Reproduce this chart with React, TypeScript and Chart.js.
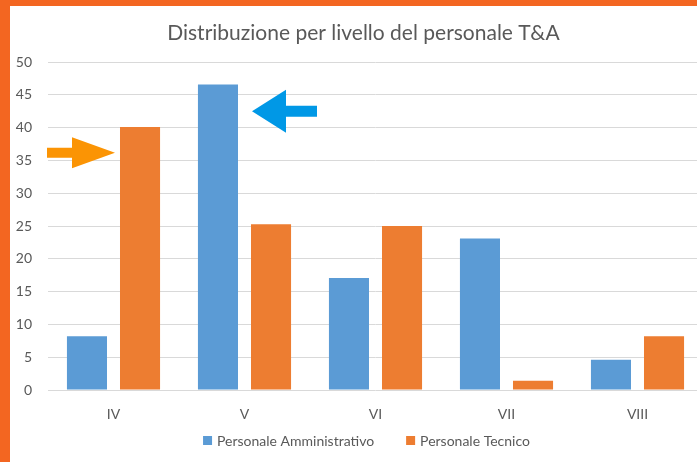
import React, { useEffect, useRef } from "react";
import { Chart, registerables } from "chart.js";

Chart.register(...registerables);

const categories = ["IV", "V", "VI", "VII", "VIII"];
const amministrativo = [8.2, 46.6, 17.1, 23.1, 4.6];
const tecnico = [40.1, 25.3, 25.0, 1.4, 8.2];
const seriesNames = ["Personale Amministrativo", "Personale Tecnico"];
const seriesColors = ["#5B9BD5", "#ED7D31"];
const titleText = "Distribuzione per livello del personale T&A";
const yMin = 0;
const yMax = 50;
const yStep = 5;

const FONT = "Lato, 'Noto Sans', sans-serif";
const TEXT = "#595959";

function drawArrow(ctx: CanvasRenderingContext2D, tipX: number, cy: number, dir: number, length: number, headLen: number, headH: number, shaftH: number, color: string) {
  ctx.save();
  ctx.fillStyle = color;
  ctx.beginPath();
  const baseX = tipX - dir * headLen;
  const tailX = tipX - dir * length;
  ctx.moveTo(tipX, cy);
  ctx.lineTo(baseX, cy - headH / 2);
  ctx.lineTo(baseX, cy - shaftH / 2);
  ctx.lineTo(tailX, cy - shaftH / 2);
  ctx.lineTo(tailX, cy + shaftH / 2);
  ctx.lineTo(baseX, cy + shaftH / 2);
  ctx.lineTo(baseX, cy + headH / 2);
  ctx.closePath();
  ctx.fill();
  ctx.restore();
}

const arrowPlugin = {
  id: "arrows",
  afterDraw(chart: any) {
    const ctx = chart.ctx;
    const y = chart.scales.y;
    const orangeBar = chart.getDatasetMeta(1).data[0];
    const blueBar = chart.getDatasetMeta(0).data[1];
    if (orangeBar) {
      const tip = orangeBar.x - orangeBar.width / 2 - 5;
      drawArrow(ctx, tip, y.getPixelForValue(36.2), 1, 68, 43, 31, 10, "#FB9404");
    }
    if (blueBar) {
      const tip = blueBar.x + blueBar.width / 2 + 14;
      drawArrow(ctx, tip, y.getPixelForValue(42.5), -1, 65, 34, 43, 11, "#0098E6");
    }
  },
};

const legendPlugin = {
  id: "customLegend",
  afterDraw(chart: any) {
    const ctx = chart.ctx as CanvasRenderingContext2D;
    ctx.save();
    ctx.font = `14px ${FONT}`;
    ctx.textBaseline = "middle";
    ctx.textAlign = "left";
    const box = 9;
    const boxGap = 5;
    const itemGap = 32;
    const widths = chart.data.datasets.map((d: any) => ctx.measureText(d.label).width);
    const total = widths.reduce((a: number, w: number) => a + box + boxGap + w, 0) + itemGap * (widths.length - 1);
    let x = chart.width / 2 + 3 - total / 2;
    const cy = chart.chartArea.bottom + 51;
    chart.data.datasets.forEach((d: any, i: number) => {
      ctx.fillStyle = d.backgroundColor;
      ctx.fillRect(x, cy - box / 2 - 0.5, box, box);
      x += box + boxGap;
      ctx.fillStyle = TEXT;
      ctx.fillText(d.label, x, cy);
      x += widths[i] + itemGap;
    });
    ctx.restore();
  },
};

export default function App() {
  const ref = useRef<HTMLCanvasElement>(null);
  useEffect(() => {
    if (!ref.current) return;
    const chart = new Chart(ref.current, {
      type: "bar",
      data: {
        labels: categories,
        datasets: [
          { label: seriesNames[0], data: amministrativo, backgroundColor: seriesColors[0], categoryPercentage: 0.81, barPercentage: 0.755 },
          { label: seriesNames[1], data: tecnico, backgroundColor: seriesColors[1], categoryPercentage: 0.81, barPercentage: 0.755 },
        ],
      },
      options: {
        responsive: false,
        animation: false,
        layout: { padding: { left: 0, right: 0, bottom: 39 } },
        plugins: {
          title: {
            display: true,
            text: titleText,
            color: TEXT,
            font: { family: FONT, size: 21, weight: "normal" as any },
            padding: { top: 15, bottom: 16 },
          },
          legend: { display: false },
          tooltip: { enabled: false },
        },
        scales: {
          x: {
            grid: { display: false, drawTicks: false },
            border: { display: false },
            ticks: { color: TEXT, font: { family: FONT, size: 14 }, padding: 16 },
            afterFit: (s: any) => { s.height = 33; },
          },
          y: {
            min: yMin,
            max: yMax,
            ticks: { stepSize: yStep, color: TEXT, font: { family: FONT, size: 14 }, padding: 16 },
            grid: { color: "#D9D9D9", drawTicks: false, lineWidth: 1 },
            border: { display: false },
            afterFit: (s: any) => { s.width = 38; },
          },
          yRight: {
            type: "linear",
            position: "right",
            display: true,
            grid: { display: false, drawTicks: false },
            border: { display: false },
            ticks: { display: false },
            afterFit: (s: any) => { s.width = 14; },
          },
        },
      },
      plugins: [arrowPlugin, legendPlugin],
    });
    return () => chart.destroy();
  }, []);
  return (
    <div style={{ position: "fixed", left: 0, top: 0, width: 697, height: 462, background: "#F36621", overflow: "hidden" }}>
      <div style={{ position: "absolute", left: 10, top: 6, width: 707, height: 456, background: "#FFFFFF" }}>
        <canvas ref={ref} width={707} height={456} style={{ display: "block" }} />
      </div>
    </div>
  );
}
